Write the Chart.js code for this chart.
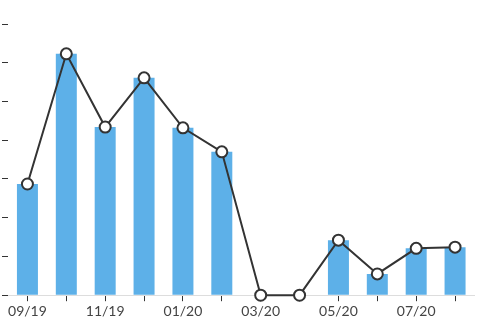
<!DOCTYPE html>
<html lang="en">
<head>
    <meta charset="UTF-8">
    <title>Monthly chart</title>
    <script src="https://cdn.jsdelivr.net/npm/chart.js"></script>
    <style>
        html, body { margin: 0; padding: 0; background: #fff; }
        .chart-container { position: relative; width: 482px; height: 322px; }
    </style>
</head>
<body>
    <div class="chart-container">
        <canvas id="mainChart"></canvas>
    </div>

    <script>
        const months = ['09/19', '10/19', '11/19', '12/19', '01/20', '02/20', '03/20', '04/20', '05/20', '06/20', '07/20', '08/20'];
        const barValues = [2.87, 6.23, 4.34, 5.61, 4.32, 3.70, 0, 0, 1.42, 0.55, 1.21, 1.24];
        const lineValues = [2.87, 6.23, 4.34, 5.61, 4.32, 3.70, 0, 0, 1.42, 0.55, 1.21, 1.24];

        Chart.defaults.font.family = 'Lato, "Open Sans", sans-serif';

        const ctx = document.getElementById('mainChart').getContext('2d');
        new Chart(ctx, {
            data: {
                labels: months,
                datasets: [{
                    type: 'line',
                    data: lineValues,
                    borderColor: '#333',
                    borderWidth: 2,
                    tension: 0,
                    pointRadius: 5.5,
                    pointBackgroundColor: '#fff',
                    pointBorderColor: '#333',
                    pointBorderWidth: 2,
                    clip: false,
                    order: 0
                }, {
                    type: 'bar',
                    data: barValues,
                    backgroundColor: 'rgb(93, 176, 232)',
                    categoryPercentage: 1,
                    barPercentage: 0.54,
                    order: 1
                }]
            },
            options: {
                responsive: true,
                maintainAspectRatio: false,
                animation: false,
                layout: { padding: { top: 24, left: 2, right: 4, bottom: 0 } },
                plugins: { legend: { display: false }, tooltip: { enabled: false } },
                scales: {
                    x: {
                        offset: true,
                        grid: { offset: false, drawOnChartArea: false, tickLength: 6, tickColor: '#333' },
                        border: { color: '#ddd' },
                        ticks: {
                            autoSkip: false,
                            maxRotation: 0,
                            padding: 2,
                            color: '#444',
                            font: { size: 14 },
                            callback: (v, i) => i % 2 ? '' : months[i]
                        }
                    },
                    y: {
                        min: 0,
                        max: 7,
                        grid: { drawOnChartArea: false, tickLength: 6, tickColor: '#333' },
                        border: { display: false },
                        ticks: { display: false, stepSize: 1 }
                    }
                }
            }
        });
    </script>
</body>
</html>
